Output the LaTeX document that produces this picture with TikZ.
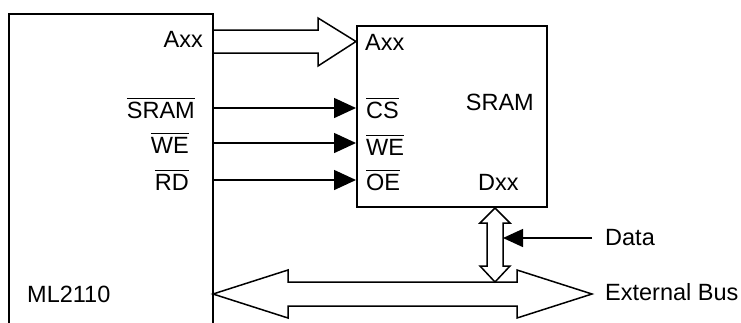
\documentclass[tikz,border=0pt]{standalone}
\usepackage{fontspec}
\setmainfont{Liberation Sans}
\usetikzlibrary{arrows.meta}
\newcommand\ovl[1]{\vbox{\hrule height 1.4pt\kern 2.4pt\hbox{#1}}}
\begin{document}
\begin{tikzpicture}[x=1pt,y=-1pt,
  txt/.style={inner sep=0pt,font=\fontsize{23.5}{28}\selectfont},
  box/.style={draw,line width=2pt,inner sep=0pt,rectangle},
  sig/.style={line width=1.5pt,-{Triangle[length=22pt,width=20pt]}},
  sigdata/.style={line width=1.5pt,-{Triangle[length=20pt,width=18pt]}},
  fat/.style={draw,line width=1.5pt,line join=miter,fill=white}]
\useasboundingbox (0,0) rectangle (741,322);
\begin{scope}
  \clip (0,0) rectangle (741,322);
  \node[box,anchor=north west,minimum width=204pt,minimum height=340pt] (ml) at (8,13) {};
\end{scope}
\node[box,anchor=north west,minimum width=190pt,minimum height=181pt] (sram) at (356,25) {};

% address bus
\draw[fat] (ml.east|-0,30) -- (318,30) -- (318,18) -- (sram.west|-0,41.5) -- (318,66) -- (318,53) -- (ml.east|-0,53);

% control signals
\draw[sig] (ml.east|-0,108) -- (sram.west|-0,108);
\draw[sig] (ml.east|-0,143) -- (sram.west|-0,143);
\draw[sig] (ml.east|-0,180) -- (sram.west|-0,180);

% external bus
\draw[fat] (213,294) -- (288,270) -- (288,282) -- (517,282) -- (517,270) -- (592,294) -- (517,318) -- (517,306) -- (288,306) -- (288,318) -- cycle;

% data bus
\draw[fat] (sram.south-|495,0) -- (510,223) -- (503,223) -- (503,266) -- (510,266) -- (495,282) -- (480,266) -- (487,266) -- (487,223) -- (480,223) -- cycle;
\coordinate (dtip) at (503,238);
\coordinate (dstart) at (592,238);
\draw[sigdata] (dstart) -- (dtip);

% labels
\node[txt,anchor=base east] (la) at (203,47) {Axx};
\node[txt,anchor=base east] (lsram) at (195,118) {\ovl{SRAM}};
\node[txt,anchor=base east] (lwe) at (189,153) {\ovl{WE}};
\node[txt,anchor=base east] (lrd) at (189,190) {\ovl{RD}};
\node[txt,anchor=base west] (ml2110) at (27,302) {ML2110};

\node[txt,anchor=base west] (ra) at (365,50) {Axx};
\node[txt,anchor=base west] (rcs) at (366,118) {\ovl{CS}};
\node[txt,anchor=base west] (rwe) at (366,155) {\ovl{WE}};
\node[txt,anchor=base west] (roe) at (366,190) {\ovl{OE}};
\node[txt,anchor=base east] (rsram) at (534,110) {SRAM};
\node[txt,anchor=base west] (rdxx) at (478,190) {Dxx};

\node[txt,anchor=base west] (ldata) at (605,245) {Data};
\node[txt,anchor=base west] (lbus) at (605,300) {External Bus};
\end{tikzpicture}
\end{document}
